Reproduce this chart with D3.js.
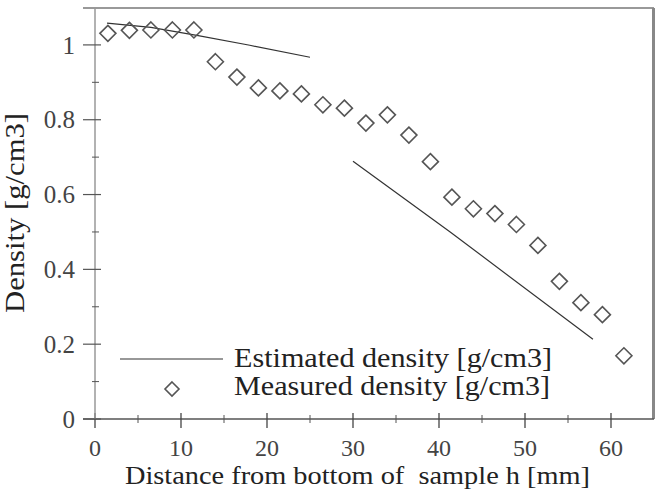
<!DOCTYPE html>
<html>
<head>
<meta charset="utf-8">
<script src="https://cdn.jsdelivr.net/npm/d3@7"></script>
<style>
  body { margin: 0; background: #fff; }
  svg text { font-family: 'Liberation Serif', 'DejaVu Serif', serif !important; }
</style>
</head>
<body>
<svg id="chart" width="657" height="489"></svg>
<script>
  // Measured density (diamonds)
  var measuredX = [1.5, 4, 6.5, 9, 11.5, 14, 16.5, 19, 21.5, 24, 26.5, 29, 31.5, 34, 36.5, 39, 41.5, 44, 46.5, 49, 51.5, 54, 56.5, 59, 61.5]
  var measuredY = [1.031, 1.039, 1.04, 1.04, 1.04, 0.955, 0.914, 0.885, 0.877, 0.869, 0.84, 0.831, 0.791, 0.813, 0.759, 0.688, 0.593, 0.562, 0.549, 0.52, 0.464, 0.368, 0.311, 0.279, 0.169]

  // Estimated density (two line pieces)
  var estTopX = [1.4, 6.5, 12, 18, 25]
  var estTopY = [1.058, 1.047, 1.025, 0.999, 0.967]
  var estLowX = [30, 41.3, 57.9]
  var estLowY = [0.689, 0.5, 0.213]

  var xTicks = [0, 10, 20, 30, 40, 50, 60]
  var yTicks = [0, 0.2, 0.4, 0.6, 0.8, 1]
  var legendLabels = ['Estimated density [g/cm3]', 'Measured density [g/cm3]']

  var svg = d3.select('#chart')
  var x = d3.scaleLinear().domain([0, 65]).range([95, 654])
  var y = d3.scaleLinear().domain([0, 1.1]).range([419, 7.5])

  // Frame: top and right borders
  svg.append('line').attr('x1', 83).attr('x2', 654).attr('y1', 8).attr('y2', 8)
    .attr('stroke', '#999').attr('stroke-width', 2)
  svg.append('line').attr('x1', 653.5).attr('x2', 653.5).attr('y1', 8).attr('y2', 419)
    .attr('stroke', '#888').attr('stroke-width', 3)

  // X axis
  var xAxis = svg.append('g').attr('transform', 'translate(0,419)')
  xAxis.append('line').attr('x1', 83).attr('x2', 654).attr('stroke', '#555').attr('stroke-width', 1.3)
  xAxis.selectAll('.minor').data(d3.range(5, 65, 10)).enter().append('line')
    .attr('x1', function (d) { return x(d) }).attr('x2', function (d) { return x(d) })
    .attr('y1', -4).attr('y2', 4).attr('stroke', '#555')
  xAxis.selectAll('.major').data(xTicks).enter().append('line')
    .attr('x1', function (d) { return x(d) }).attr('x2', function (d) { return x(d) })
    .attr('y1', -6).attr('y2', 9).attr('stroke', '#444').attr('stroke-width', 1.3)
  xAxis.selectAll('text').data(xTicks).enter().append('text')
    .attr('x', function (d) { return x(d) }).attr('y', 37)
    .attr('text-anchor', 'middle').attr('font-size', 24).attr('fill', '#444')
    .text(function (d) { return d })

  // Y axis
  var yAxis = svg.append('g').attr('transform', 'translate(95,0)')
  yAxis.append('line').attr('y1', 8).attr('y2', 419).attr('stroke', '#999').attr('stroke-width', 1.5)
  yAxis.selectAll('.minor').data(d3.range(0.1, 1.1, 0.2)).enter().append('line')
    .attr('y1', function (d) { return y(d) }).attr('y2', function (d) { return y(d) })
    .attr('x1', -3).attr('x2', 4).attr('stroke', '#555')
  yAxis.selectAll('.major').data(yTicks).enter().append('line')
    .attr('y1', function (d) { return y(d) }).attr('y2', function (d) { return y(d) })
    .attr('x1', -12).attr('x2', 6).attr('stroke', '#555').attr('stroke-width', 1.2)
  yAxis.selectAll('text').data(yTicks).enter().append('text')
    .attr('x', -20).attr('y', function (d) { return y(d) })
    .attr('dy', '0.35em').attr('text-anchor', 'end').attr('font-size', 25).attr('fill', '#444')
    .text(d3.format(''))

  // Axis titles
  svg.append('text').attr('x', 125).attr('y', 484)
    .attr('font-size', 26).attr('fill', '#222')
    .attr('textLength', 465).attr('lengthAdjust', 'spacingAndGlyphs')
    .style('white-space', 'pre')
    .text('Distance from bottom of  sample h [mm]')
  svg.append('text').attr('transform', 'translate(24,313) rotate(-90)')
    .attr('font-size', 28).attr('fill', '#222')
    .attr('textLength', 200).attr('lengthAdjust', 'spacingAndGlyphs')
    .text('Density [g/cm3]')

  // Estimated lines
  var line = d3.line().x(function (d) { return x(d[0]) }).y(function (d) { return y(d[1]) })
  ;[[estTopX, estTopY], [estLowX, estLowY]].forEach(function (s) {
    svg.append('path')
      .datum(d3.zip(s[0], s[1]))
      .attr('d', line)
      .attr('fill', 'none').attr('stroke', '#333').attr('stroke-width', 1.2)
  })

  // Measured diamonds
  var diamond = 'M0,-8L8,0L0,8L-8,0Z'
  svg.selectAll('.pt').data(d3.zip(measuredX, measuredY)).enter().append('path')
    .attr('transform', function (d) { return 'translate(' + x(d[0]) + ',' + y(d[1]) + ')' })
    .attr('d', diamond)
    .attr('fill', 'none').attr('stroke', '#555').attr('stroke-width', 1.6)

  // Legend
  var legend = svg.append('g')
  legend.append('line').attr('x1', 120).attr('x2', 223).attr('y1', 359).attr('y2', 359)
    .attr('stroke', '#333').attr('stroke-width', 1.2)
  legend.append('path').attr('transform', 'translate(172,389)').attr('d', 'M0,-7L7,0L0,7L-7,0Z')
    .attr('fill', 'none').attr('stroke', '#555').attr('stroke-width', 1.6)
  legend.selectAll('text').data(legendLabels).enter().append('text')
    .attr('x', 234).attr('y', function (d, i) { return 367 + i * 28 })
    .attr('font-size', 27).attr('fill', '#222')
    .attr('textLength', function (d, i) { return i ? 316 : 318 })
    .attr('lengthAdjust', 'spacingAndGlyphs')
    .text(function (d) { return d })
</script>
</body>
</html>
